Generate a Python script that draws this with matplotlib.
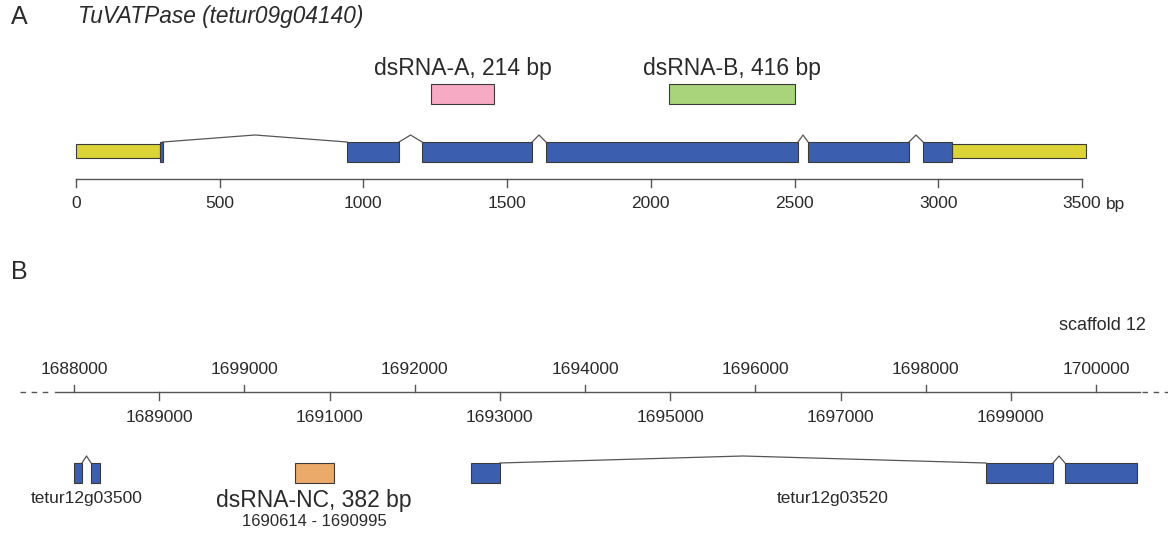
import matplotlib
matplotlib.use("Agg")
import matplotlib.pyplot as plt
from matplotlib.patches import Rectangle

plt.rcParams['font.family'] = ['Liberation Sans', 'DejaVu Sans']

# ---- panel A: TuVATPase transcript (bp) ----
utr5 = [(0, 292)]
utr3 = [(3048, 3515)]
cds_a = [(292, 302), (943, 1124), (1204, 1587), (1635, 2512), (2547, 2898), (2947, 3048)]
dsrna_a = [(1235, 1454, "dsRNA-A, 214 bp", "#f6aac3"),
           (2063, 2502, "dsRNA-B, 416 bp", "#a9d47c")]
ticks_a = [0, 500, 1000, 1500, 2000, 2500, 3000, 3500]
ticklabels_a = ["0", "500", "1000", "1500", "2000", "2500", "3000", "3500"]

# ---- panel B: scaffold 12 region ----
gene_500 = [(1688000, 1688094), (1688200, 1688305)]
gene_520 = [(1692661, 1693002), (1698708, 1699495), (1699636, 1700481)]
dsrna_nc = (1690590, 1691050)
ticks_top = [1688000, 1690000, 1692000, 1694000, 1696000, 1698000, 1700000]
labels_top = ["1688000", "1699000", "1692000", "1694000", "1696000", "1698000", "1700000"]
ticks_bot = [1689000, 1691000, 1693000, 1695000, 1697000, 1699000]
labels_bot = ["1689000", "1691000", "1693000", "1695000", "1697000", "1699000"]
scaf_start, scaf_end = 1687777, 1700516

BLUE = "#3c5eae"
YELLOW = "#dcd436"
EDGE = "#3a3a3a"
LINE = "#555555"
TXT = "#2a2a2a"

W, H = 1168, 539
fig = plt.figure(figsize=(W / 100, H / 100), dpi=100)


def make_ax(x0_px, px_per_unit, origin):
    ax = fig.add_axes([0, 0, 1, 1])
    ax.set_xlim(origin - x0_px / px_per_unit, origin + (W - x0_px) / px_per_unit)
    ax.set_ylim(H, 0)
    ax.axis('off')
    ax.patch.set_alpha(0)
    return ax


def exon(ax, s, e, top, h, color):
    ax.add_patch(Rectangle((s, top), e - s, h, facecolor=color,
                           edgecolor=EDGE, linewidth=0.8, zorder=3))


def intron(ax, e, s, top, peak):
    ax.plot([e, (e + s) / 2, s], [top, peak, top], color=LINE, lw=0.9, zorder=2)


# ---------------- panel A ----------------
axA = make_ax(76, 1006 / 3500, 0)
fig.text(11 / W, 1 - 17 / H, "A", fontsize=18, color=TXT, va='center')
fig.text(78 / W, 1 - 17 / H, "TuVATPase (tetur09g04140)", fontsize=16.3,
         style='italic', color=TXT, va='center')

for s, e, lab, col in dsrna_a:
    axA.add_patch(Rectangle((s, 84), e - s, 20, facecolor=col,
                            edgecolor=EDGE, linewidth=0.8))
    axA.text((s + e) / 2, 68, lab, fontsize=16.5, ha='center', va='center', color=TXT)

for s, e in utr5 + utr3:
    exon(axA, s, e, 144, 14, YELLOW)
for s, e in cds_a:
    exon(axA, s, e, 142, 20, BLUE)
for (s1, e1), (s2, e2) in zip(cds_a[:-1], cds_a[1:]):
    intron(axA, e1, s2, 142, 135)

axA.plot([ticks_a[0], ticks_a[-1]], [179, 179], color=LINE, lw=1.0)
for t, lab in zip(ticks_a, ticklabels_a):
    axA.plot([t, t], [179, 187], color=LINE, lw=1.0)
    axA.text(t, 204, lab, fontsize=12.5, ha='center', va='center', color=TXT)
axA.text(ticks_a[-1] + 82, 204, "bp", fontsize=12.5, ha='left', va='center', color=TXT)

# ---------------- panel B ----------------
axB = make_ax(74, 1022 / 12000, 1688000)
fig.text(11 / W, 1 - 272 / H, "B", fontsize=18, color=TXT, va='center')
axB.text(1700580, 325, "scaffold 12", fontsize=13, ha='right', va='center', color=TXT)

axB.plot([scaf_start, scaf_end], [392, 392], color=LINE, lw=1.0)
axB.plot([scaf_start - 410, scaf_start - 20], [392, 392], color=LINE, lw=1.0,
         ls=(0, (4, 4)))
axB.plot([scaf_end + 20, scaf_end + 450], [392, 392], color=LINE, lw=1.0,
         ls=(0, (4, 4)))
for t, lab in zip(ticks_top, labels_top):
    axB.plot([t, t], [385, 392], color=LINE, lw=1.0)
    axB.text(t, 369, lab, fontsize=12.5, ha='center', va='center', color=TXT)
for t, lab in zip(ticks_bot, labels_bot):
    axB.plot([t, t], [392, 400], color=LINE, lw=1.0)
    axB.text(t, 417, lab, fontsize=12.5, ha='center', va='center', color=TXT)

# label x positions: first gene centred, second gene label sits right of the intron peak
for gene, name, lab_shift in [(gene_500, "tetur12g03500", 0), (gene_520, "tetur12g03520", 340)]:
    for s, e in gene:
        exon(axB, s, e, 463, 20, BLUE)
    for (s1, e1), (s2, e2) in zip(gene[:-1], gene[1:]):
        intron(axB, e1, s2, 463, 456)
    mid = (gene[0][0] + gene[-1][1]) / 2 + lab_shift
    axB.text(mid, 498, name, fontsize=12.5, ha='center', va='center', color=TXT)

s, e = dsrna_nc
axB.add_patch(Rectangle((s, 463), e - s, 20, facecolor="#eba96a",
                        edgecolor=EDGE, linewidth=0.8))
axB.text((s + e) / 2, 501, "dsRNA-NC, 382 bp", fontsize=16.5, ha='center',
         va='center', color=TXT)
axB.text((s + e) / 2, 522, "1690614 - 1690995", fontsize=12, ha='center',
         va='center', color=TXT)

fig.savefig("out.png", dpi=100)
